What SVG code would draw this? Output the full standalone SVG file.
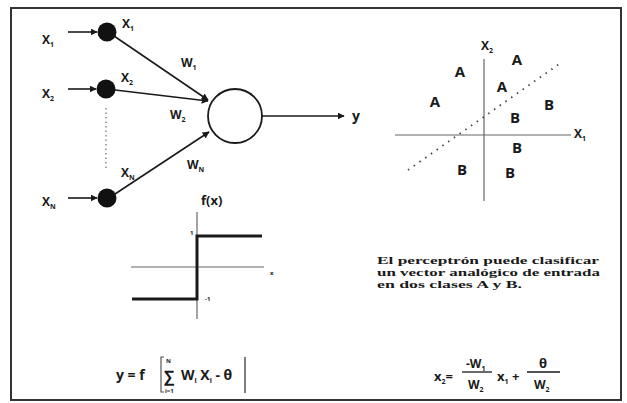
<svg xmlns="http://www.w3.org/2000/svg" width="627" height="403" viewBox="0 0 627 403">
<style>
.t{font-family:"Open Sans","Liberation Sans",sans-serif;font-weight:700;fill:#1a1a1a}
.lbl{font-size:12px}
.cls{font-size:15px;text-anchor:middle}
.sub{font-size:7px}
.ln{stroke:#1a1a1a;stroke-width:1.6;fill:none}
.ax{stroke:#666;stroke-width:1.2;fill:none}
.step{stroke:#1a1a1a;stroke-width:3;fill:none}
.dot{fill:#111}
.txt{font-family:"Liberation Serif",serif;font-weight:bold;font-size:10.5px;fill:#1a1a1a}
</style>
<defs>
<marker id="ah" viewBox="0 0 10 10" refX="9" refY="5" markerWidth="7" markerHeight="7" markerUnits="userSpaceOnUse" orient="auto">
<path d="M0,0 L10,5 L0,10 z" fill="#1a1a1a"/>
</marker>
</defs>
<rect x="0" y="0" width="627" height="403" fill="#fff"/>
<rect x="11" y="8" width="610" height="392" fill="none" stroke="#333" stroke-width="2"/>

<g id="connectors">
<line class="ln" x1="68" y1="32" x2="97" y2="32" marker-end="url(#ah)"/>
<line class="ln" x1="68" y1="89" x2="96" y2="89" marker-end="url(#ah)"/>
<line class="ln" x1="68" y1="198" x2="97" y2="198" marker-end="url(#ah)"/>
<line class="ln" x1="114" y1="36" x2="208" y2="100" marker-end="url(#ah)"/>
<line class="ln" x1="115" y1="90" x2="208" y2="101" marker-end="url(#ah)"/>
<line class="ln" x1="115" y1="194" x2="209" y2="132" marker-end="url(#ah)"/>
<line class="ln" x1="262" y1="116" x2="344" y2="116" marker-end="url(#ah)"/>
<line x1="106" y1="108" x2="106" y2="170" stroke="#888" stroke-width="1.5" stroke-dasharray="1.5,3"/>
</g>

<g id="input1">
<text class="t lbl" x="42" y="44">X<tspan class="sub" dy="3">1</tspan></text>
<circle class="dot" cx="107" cy="32" r="9.5"/>
<text class="t lbl" x="122" y="28">X<tspan class="sub" dy="3">1</tspan></text>
</g>
<g id="input2">
<text class="t lbl" x="42" y="98">X<tspan class="sub" dy="3">2</tspan></text>
<circle class="dot" cx="106" cy="89" r="9.5"/>
<text class="t lbl" x="121" y="82">X<tspan class="sub" dy="3">2</tspan></text>
</g>
<g id="inputN">
<text class="t lbl" x="42" y="206">X<tspan class="sub" dy="3">N</tspan></text>
<circle class="dot" cx="107" cy="198" r="9.5"/>
<text class="t lbl" x="121" y="177">X<tspan class="sub" dy="3">N</tspan></text>
</g>
<g id="weights">
<text class="t lbl" x="181" y="67">W<tspan class="sub" dy="3">1</tspan></text>
<text class="t lbl" x="170" y="119">W<tspan class="sub" dy="3">2</tspan></text>
<text class="t lbl" x="187" y="169">W<tspan class="sub" dy="3">N</tspan></text>
</g>
<g id="neuron">
<circle cx="235" cy="116" r="27" fill="#fff" stroke="#1a1a1a" stroke-width="1.8"/>
</g>
<g id="output">
<text class="t" x="352" y="121" font-size="14">y</text>
</g>

<g id="step-function">
<text class="t" x="201" y="205" font-size="13">f(x)</text>
<line class="ax" x1="197" y1="212" x2="197" y2="319"/>
<line class="ax" x1="131" y1="267" x2="264" y2="267"/>
<polyline class="step" points="262,236 197,236 197,299 132,299"/>
<text class="t" x="190" y="235" font-size="6">1</text>
<text class="t" x="205" y="301" font-size="6">-1</text>
<text class="t" x="270" y="275" font-size="6">x</text>
</g>

<g id="classes">
<line class="ax" x1="484" y1="59" x2="484" y2="201"/>
<line class="ax" x1="395" y1="135" x2="571" y2="135"/>
<line x1="408" y1="170" x2="562" y2="62" stroke="#444" stroke-width="1.8" stroke-dasharray="1.5,5.5"/>
<text class="t lbl" x="481" y="50">X<tspan class="sub" dy="3">2</tspan></text>
<text class="t lbl" x="574" y="138">X<tspan class="sub" dy="3">1</tspan></text>
<text class="t cls" x="460" y="77">A</text>
<text class="t cls" x="517" y="65">A</text>
<text class="t cls" x="435" y="107">A</text>
<text class="t cls" x="502" y="92">A</text>
<text class="t cls" x="549" y="110">B</text>
<text class="t cls" x="515" y="123">B</text>
<text class="t cls" x="517" y="153">B</text>
<text class="t cls" x="462" y="175">B</text>
<text class="t cls" x="510" y="178">B</text>
</g>

<g id="caption">
<text class="txt" x="377" y="264" textLength="222" lengthAdjust="spacingAndGlyphs">El perceptrón puede clasificar</text>
<text class="txt" x="377" y="276" textLength="223" lengthAdjust="spacingAndGlyphs">un vector analógico de entrada</text>
<text class="txt" x="377" y="288" textLength="145" lengthAdjust="spacingAndGlyphs">en dos clases A y B.</text>
</g>

<g id="formula1">
<text class="t" x="116" y="380" font-size="14">y = f</text>
<path d="M164,357 L161,357 L161,392 L164,392" stroke="#555" stroke-width="1.2" fill="none"/>
<text class="t" x="164" y="382" font-size="16">∑</text>
<text class="t" x="166" y="363" font-size="6">N</text>
<text class="t" x="165" y="393" font-size="6">i=1</text>
<text class="t" x="181" y="380" font-size="14">W<tspan class="sub" dy="3">i</tspan><tspan dy="-3"> X</tspan><tspan class="sub" dy="3">i</tspan><tspan dy="-3"> - θ</tspan></text>
<line x1="245" y1="357" x2="245" y2="393" stroke="#555" stroke-width="1.5"/>
</g>

<g id="formula2">
<text class="t" x="434" y="381" font-size="13">x<tspan class="sub" dy="3">2</tspan><tspan dy="-3">=</tspan></text>
<text class="t" x="466" y="368" font-size="12">-W<tspan class="sub" dy="3">1</tspan></text>
<line x1="462" y1="372" x2="492" y2="372" stroke="#1a1a1a" stroke-width="1.3"/>
<text class="t" x="468" y="389" font-size="12">W<tspan class="sub" dy="3">2</tspan></text>
<text class="t" x="497" y="381" font-size="13">x<tspan class="sub" dy="3">1</tspan><tspan dy="-3">  +</tspan></text>
<text class="t" x="539" y="368" font-size="13">θ</text>
<line x1="527" y1="372" x2="560" y2="372" stroke="#1a1a1a" stroke-width="1.3"/>
<text class="t" x="534" y="389" font-size="12">W<tspan class="sub" dy="3">2</tspan></text>
</g>
</svg>
